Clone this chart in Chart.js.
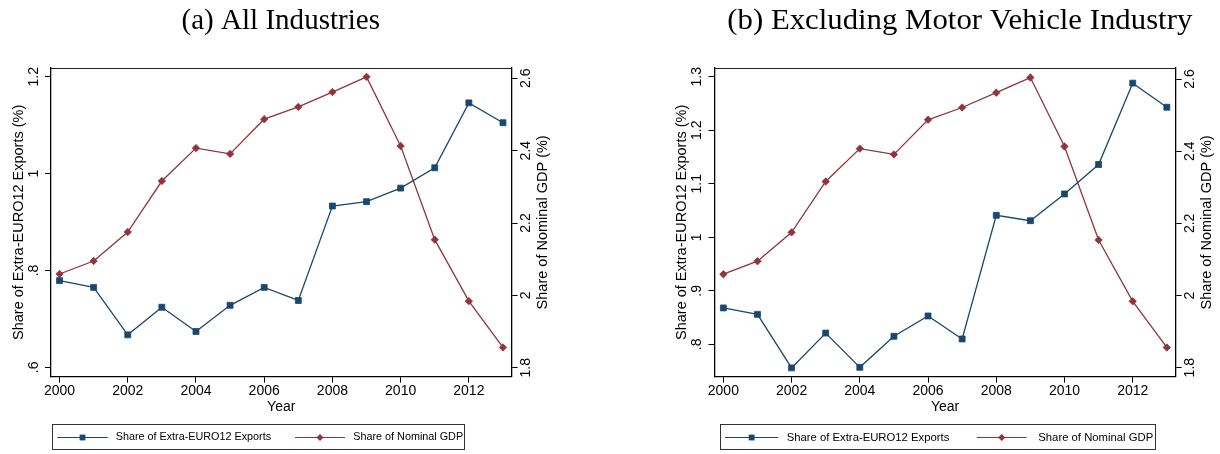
<!DOCTYPE html>
<html>
<head>
<meta charset="utf-8">
<title>Extra-EURO12 export share and nominal GDP share, 2000-2013</title>
<script src="https://cdn.jsdelivr.net/npm/chart.js@4.4.1/dist/chart.umd.min.js"></script>
<style>
  html, body { margin: 0; padding: 0; background: #fff; }
  #wrap { position: relative; width: 1220px; height: 454px; overflow: hidden; background: #fff; }
  #wrap canvas { position: absolute; top: 0; }
</style>
</head>
<body>
<div id="wrap">
  <canvas id="panelA" width="610" height="454" style="left:0px"></canvas>
  <canvas id="panelB" width="610" height="454" style="left:610px"></canvas>
</div>
<script>
// ---- data -------------------------------------------------------------
const years = [2000, 2001, 2002, 2003, 2004, 2005, 2006, 2007, 2008, 2009, 2010, 2011, 2012, 2013];

// share of extra-EURO12 exports (%), all industries
const exportShareAll = [0.779, 0.765, 0.667, 0.724, 0.674, 0.728, 0.765, 0.738, 0.933, 0.942, 0.970, 1.012, 1.146, 1.105];

// share of extra-EURO12 exports (%), excluding the motor vehicle industry
const exportShareExMotor = [0.868, 0.856, 0.756, 0.821, 0.757, 0.815, 0.853, 0.810, 1.041, 1.031, 1.081, 1.136, 1.288, 1.243];

// share of nominal GDP (%)
const gdpShare = [2.059, 2.095, 2.175, 2.316, 2.407, 2.391, 2.487, 2.521, 2.562, 2.604, 2.413, 2.154, 1.984, 1.856];

// tick labels
const yearTicks = [2000, 2002, 2004, 2006, 2008, 2010, 2012];
const exportTicksAll = [0.6, 0.8, 1.0, 1.2];
const exportTicksExMotor = [0.8, 0.9, 1.0, 1.1, 1.2, 1.3];
const gdpTicks = [1.8, 2.0, 2.2, 2.4, 2.6];

// texts
const panelTitles = ['(a) All Industries', '(b) Excluding Motor Vehicle Industry'];
const seriesNames = ['Share of Extra-EURO12 Exports', 'Share of Nominal GDP'];
const exportAxisTitle = 'Share of Extra-EURO12 Exports (%)';
const gdpAxisTitle = 'Share of Nominal GDP (%)';
const yearAxisTitle = 'Year';

// ---- style ------------------------------------------------------------
const NAVY = '#1a476f';
const MAROON = '#90353b';
const SANS = '"Liberation Sans", Arial, Helvetica, sans-serif';
const SERIF = '"Liberation Serif", "Times New Roman", serif';

// Stata-like number format: 0.8 -> ".8", 1.0 -> "1"
function stataNum(v) {
  let s = String(Math.round(v * 100) / 100);
  if (s.startsWith('0.')) s = s.slice(1);
  return s;
}

function setTicks(values) {
  return function (scale) { scale.ticks = values.map(v => ({ value: v })); };
}

// ---- panel frame, labels, title and legend ----------------------------
const stataFrame = {
  id: 'stataFrame',
  afterDraw(chart, args, opts) {
    const ctx = chart.ctx;
    const a = chart.chartArea;
    const sx = chart.scales.x, sy = chart.scales.y, sy1 = chart.scales.y1;

    ctx.save();
    // top edge of the plot region
    ctx.strokeStyle = '#222';
    ctx.lineWidth = 1;
    ctx.beginPath();
    ctx.moveTo(a.left, Math.round(a.top) + 0.5);
    ctx.lineTo(a.right, Math.round(a.top) + 0.5);
    ctx.stroke();

    ctx.fillStyle = '#000';
    ctx.textAlign = 'center';
    ctx.textBaseline = 'middle';

    // vertical tick labels, reading bottom to top
    ctx.font = '14px ' + SANS;
    const vtext = (txt, x, y) => {
      ctx.save();
      ctx.translate(x, y);
      ctx.rotate(-Math.PI / 2);
      ctx.fillText(txt, 0, 0);
      ctx.restore();
    };
    sy.ticks.forEach(t => vtext(stataNum(t.value), a.left - 17, sy.getPixelForValue(t.value)));
    sy1.ticks.forEach(t => vtext(stataNum(t.value), a.right + 14.5, sy1.getPixelForValue(t.value)));

    // year labels
    sx.ticks.forEach(t => ctx.fillText(String(t.value), sx.getPixelForValue(t.value), a.bottom + 14.5));

    // axis titles
    ctx.font = '14.5px ' + SANS;
    const midY = (a.top + a.bottom) / 2;
    vtext(exportAxisTitle, a.left - 32.5, midY);
    vtext(gdpAxisTitle, a.right + 31.5, midY);
    ctx.font = '14px ' + SANS;
    ctx.fillText(yearAxisTitle, (a.left + a.right) / 2, a.bottom + 30);

    // panel title, set to its typeset width
    ctx.font = opts.titleSize + 'px ' + SERIF;
    ctx.textAlign = 'left';
    ctx.textBaseline = 'alphabetic';
    const natural = ctx.measureText(opts.title).width;
    ctx.save();
    ctx.translate(opts.titleX, 28.5);
    ctx.scale(opts.titleWidth / natural, 1);
    ctx.fillText(opts.title, 0, 0);
    ctx.restore();

    // legend
    const L = opts.legend;
    const yMid = 437.5;
    ctx.strokeStyle = '#333';
    ctx.lineWidth = 1;
    ctx.strokeRect(Math.round(L.box[0]) + 0.5, 424.5, Math.round(L.box[1] - L.box[0]), 25);

    const drawKey = (x0, x1, color, shape) => {
      ctx.strokeStyle = color;
      ctx.lineWidth = 1.2;
      ctx.beginPath();
      ctx.moveTo(x0, yMid);
      ctx.lineTo(x1, yMid);
      ctx.stroke();
      const cx = (x0 + x1) / 2;
      ctx.fillStyle = color;
      ctx.beginPath();
      if (shape === 'square') {
        ctx.rect(cx - 2.9, yMid - 2.9, 5.8, 5.8);
      } else {
        ctx.moveTo(cx, yMid - 3.6);
        ctx.lineTo(cx + 3.6, yMid);
        ctx.lineTo(cx, yMid + 3.6);
        ctx.lineTo(cx - 3.6, yMid);
        ctx.closePath();
      }
      ctx.fill();
    };
    drawKey(L.key1[0], L.key1[1], NAVY, 'square');
    drawKey(L.key2[0], L.key2[1], MAROON, 'diamond');
    ctx.fillStyle = '#000';
    ctx.font = L.fontSize + 'px ' + SANS;
    ctx.textBaseline = 'middle';
    ctx.fillText(seriesNames[0], L.text1, yMid);
    ctx.fillText(seriesNames[1], L.text2, yMid);
    ctx.restore();
  }
};

// ---- build one panel --------------------------------------------------
function makePanel(p) {
  const pairs = vals => years.map((yr, i) => ({ x: yr, y: vals[i] }));
  const axisBase = {
    ticks: { display: false },
    grid: { drawOnChartArea: false, drawTicks: true, tickLength: 6, tickWidth: 1, color: '#000' },
    border: { display: true, color: '#000', width: 1.3 }
  };
  return new Chart(document.getElementById(p.canvas), {
    type: 'line',
    data: {
      datasets: [
        {
          label: seriesNames[0],
          data: pairs(p.exports),
          yAxisID: 'y',
          borderColor: NAVY,
          backgroundColor: NAVY,
          borderWidth: 1.3,
          pointStyle: 'rect',
          pointRadius: 4.2,
          pointBorderWidth: 0.8,
          pointBackgroundColor: NAVY,
          pointBorderColor: NAVY,
          tension: 0
        },
        {
          label: seriesNames[1],
          data: pairs(gdpShare),
          yAxisID: 'y1',
          borderColor: MAROON,
          backgroundColor: MAROON,
          borderWidth: 1.3,
          pointStyle: 'rectRot',
          pointRadius: 3.7,
          pointBorderWidth: 0.8,
          pointBackgroundColor: MAROON,
          pointBorderColor: MAROON,
          tension: 0
        }
      ]
    },
    options: {
      responsive: false,
      animation: false,
      devicePixelRatio: 1,
      layout: { padding: { top: 68, left: 0, right: 0, bottom: 0 }, autoPadding: false },
      plugins: {
        legend: { display: false },
        title: { display: false },
        tooltip: { enabled: false },
        stataFrame: { title: p.title, titleX: p.titleX, titleWidth: p.titleWidth, titleSize: p.titleSize, legend: p.legend }
      },
      scales: {
        x: Object.assign({}, axisBase, {
          type: 'linear', position: 'bottom',
          min: p.xRange[0], max: p.xRange[1],
          afterBuildTicks: setTicks(yearTicks),
          afterFit: s => { s.height = 77.3; }
        }),
        y: Object.assign({}, axisBase, {
          type: 'linear', position: 'left',
          min: p.exportRange[0], max: p.exportRange[1],
          afterBuildTicks: setTicks(p.exportTicks),
          afterFit: s => { s.width = p.leftWidth; }
        }),
        y1: Object.assign({}, axisBase, {
          type: 'linear', position: 'right',
          min: p.gdpRange[0], max: p.gdpRange[1],
          afterBuildTicks: setTicks(gdpTicks),
          afterFit: s => { s.width = p.rightWidth; }
        })
      }
    },
    plugins: [stataFrame]
  });
}

makePanel({
  canvas: 'panelA',
  title: panelTitles[0], titleX: 181.5, titleWidth: 198.5, titleSize: 29,
  exports: exportShareAll, exportTicks: exportTicksAll,
  exportRange: [0.5806, 1.218], gdpRange: [1.7751, 2.6285], xRange: [1999.75, 2013.25],
  leftWidth: 51, rightWidth: 98.5,
  legend: { box: [51.7, 463.3], key1: [57.3, 107.7], text1: 115.7, key2: [295, 345], text2: 353.3, fontSize: 10.8 }
});

makePanel({
  canvas: 'panelB',
  title: panelTitles[1], titleX: 117.3, titleWidth: 465, titleSize: 29,
  exports: exportShareExMotor, exportTicks: exportTicksExMotor,
  exportRange: [0.7395, 1.3163], gdpRange: [1.775, 2.6305], xRange: [1999.74, 2013.26],
  leftWidth: 104.5, rightWidth: 44.3,
  legend: { box: [110, 545], key1: [115, 168.3], text1: 176.7, key2: [366.7, 416.7], text2: 428.3, fontSize: 11.3 }
});
</script>
</body>
</html>
